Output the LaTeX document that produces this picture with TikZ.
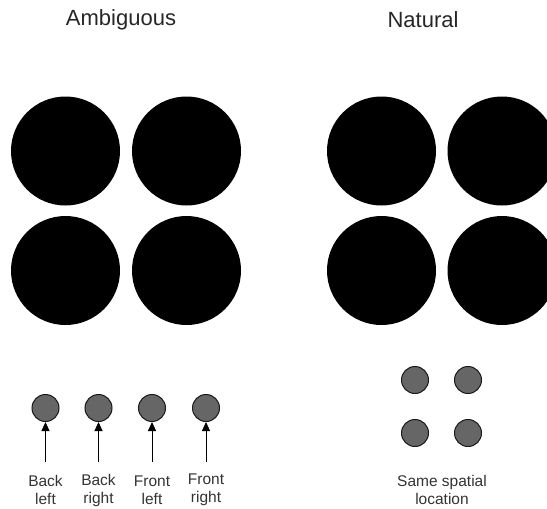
\documentclass[tikz,border=0pt]{standalone}
\usepackage{fontspec}
\setmainfont{Liberation Sans}
\usetikzlibrary{arrows.meta}
\begin{document}
\begin{tikzpicture}[x=1pt,y=-1pt,
  big/.style={circle,fill=black,minimum size=109pt,inner sep=0pt},
  small/.style={circle,fill=black!60,draw=black!90,line width=1pt,minimum size=27pt,inner sep=0pt},
  title/.style={font=\fontsize{22}{26}\selectfont,text=black!85},
  lbl/.style={font=\fontsize{15.5}{18}\selectfont,text=black!80,align=center},
  arr/.style={-{Triangle[length=9pt,width=8pt]},line width=1pt}]
\useasboundingbox (0,0) rectangle (547,509);
\begin{scope}
\clip (0,0) rectangle (547,509);
\node[title] (t1) at (121,20) {Ambiguous};
\node[title] (t2) at (423,20) {Natural};
\node[big] (a1) at (65.5,151) {};
\node[big] (a2) at (186.5,151) {};
\node[big] (a3) at (65.5,270.5) {};
\node[big] (a4) at (186.5,270.5) {};
\node[big] (n1) at (381.5,151) {};
\node[big] (n2) at (502,151) {};
\node[big] (n3) at (381.5,270.5) {};
\node[big] (n4) at (502,270.5) {};
\end{scope}
\node[small] (s1) at (45.5,408) {};
\node[small] (s2) at (98.5,408) {};
\node[small] (s3) at (152,408) {};
\node[small] (s4) at (206,408) {};
\coordinate (e1) at (45.5,462);
\coordinate (e2) at (98.5,462);
\coordinate (e3) at (152,462);
\coordinate (e4) at (206,462);
\draw[arr] (e1) -- (s1);
\draw[arr] (e2) -- (s2);
\draw[arr] (e3) -- (s3);
\draw[arr] (e4) -- (s4);
\node[lbl] (l1) at (45.5,490) {Back\\left};
\node[lbl] (l2) at (98.5,490) {Back\\right};
\node[lbl] (l3) at (152,490) {Front\\left};
\node[lbl] (l4) at (206,490) {Front\\right};
\node[small] (m1) at (415,380) {};
\node[small] (m2) at (468,380) {};
\node[small] (m3) at (415,433) {};
\node[small] (m4) at (468,433) {};
\node[lbl] (ml) at (442,490) {Same spatial\\location};
\end{tikzpicture}
\end{document}
